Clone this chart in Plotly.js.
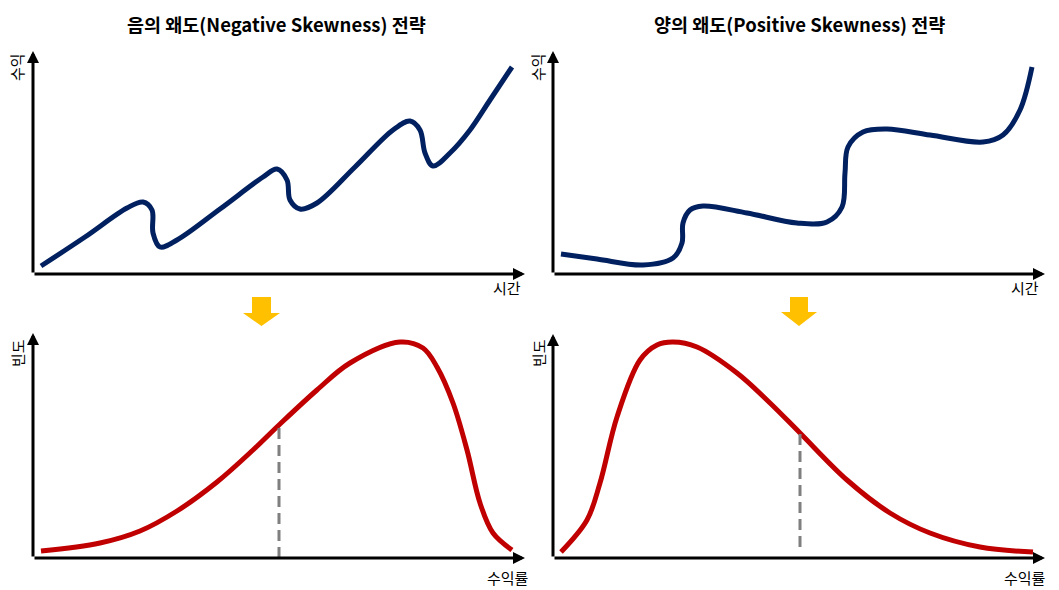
<!DOCTYPE html>
<html>
<head>
<meta charset="utf-8">
<script src="https://cdn.plot.ly/plotly-3.0.1.min.js"></script>
<style>
  html, body { margin: 0; padding: 0; background: #ffffff; }
  #chart { width: 1059px; height: 590px; }
</style>
</head>
<body>
<div id="chart"></div>
<script>
// titles and axis labels
var panelTitles = ["음의 왜도(Negative Skewness) 전략", "양의 왜도(Positive Skewness) 전략"];
var retLabel = "수익";
var timeLabel = "시간";
var freqLabel = "빈도";
var rateLabel = "수익률";

// top left: negative skew strategy, return over time
var negTime = [8, 52, 94, 110, 119, 120, 127, 144, 187, 230, 244, 254, 257, 267, 284, 322, 360, 377, 387, 392, 400, 417, 437, 457, 479];
var negRet  = [8, 37, 66, 72, 64, 41, 27, 34, 65, 97, 105, 94, 74, 65, 71, 107, 144, 153, 144, 121, 108, 121, 144, 174, 207];

// top right: positive skew strategy, return over time
var posTime = [8, 44, 90, 120, 129, 130, 137, 150, 194, 244, 274, 289, 292, 295, 310, 334, 377, 430, 450, 467, 479];
var posRet  = [20, 15, 9, 16, 31, 51, 64, 68, 61, 51, 52, 67, 101, 127, 142, 145, 139, 132, 139, 164, 207];

// bottom left: return distribution (negative skew)
var negDistX = [8, 67, 107, 144, 184, 220, 246, 284, 317, 367, 390, 404, 420, 434, 447, 460, 479];
var negDistY = [7, 15, 27, 47, 76, 108, 133, 168, 195, 216, 210, 191, 155, 108, 55, 25, 8];
var negMeanX = [246, 246];
var negMeanY = [0, 131];

// bottom right: return distribution (positive skew)
var posDistX = [8, 34, 47, 64, 87, 104, 120, 144, 184, 217, 247, 294, 337, 377, 427, 480];
var posDistY = [6, 38, 75, 141, 198, 213, 216, 211, 185, 155, 125, 78, 45, 25, 11, 6];
var posMeanX = [247, 247];
var posMeanY = [11, 125];

var W = 1059, H = 590;
function fx(p) { return p / W; }
function fy(p) { return 1 - p / H; }

var navy = "#002060";
var red = "#C00000";
var font = "'Noto Sans CJK KR', 'Noto Sans', sans-serif";

var data = [
	{ x: negTime, y: negRet, xaxis: "x", yaxis: "y", mode: "lines",
	  line: { color: navy, width: 5, shape: "spline", smoothing: 1 } },
	{ x: posTime, y: posRet, xaxis: "x2", yaxis: "y2", mode: "lines",
	  line: { color: navy, width: 5, shape: "spline", smoothing: 1 } },
	{ x: negDistX, y: negDistY, xaxis: "x3", yaxis: "y3", mode: "lines",
	  line: { color: red, width: 5, shape: "spline", smoothing: 1 } },
	{ x: negMeanX, y: negMeanY, xaxis: "x3", yaxis: "y3", mode: "lines",
	  line: { color: "#7f7f7f", width: 3, dash: "11px,6px" } },
	{ x: posDistX, y: posDistY, xaxis: "x4", yaxis: "y4", mode: "lines",
	  line: { color: red, width: 5, shape: "spline", smoothing: 1 } },
	{ x: posMeanX, y: posMeanY, xaxis: "x4", yaxis: "y4", mode: "lines",
	  line: { color: "#7f7f7f", width: 3, dash: "11px,6px" } }
];

function hidden(dom, rng) {
	return { domain: dom, range: rng, showgrid: false, zeroline: false,
		showticklabels: false, ticks: "", showline: false, fixedrange: true };
}

// axis arrows, drawn along each subplot's own axes
function axisArrows(xr, yr, xmax, ymax) {
	var base = { showarrow: true, arrowhead: 2, arrowsize: 0.8, arrowwidth: 3,
		arrowcolor: "#000000", axref: xr, ayref: yr, ax: 0, ay: 0, text: "",
		xref: xr, yref: yr, standoff: 0, startstandoff: 0 };
	return [
		Object.assign({}, base, { x: xmax, y: 0 }),
		Object.assign({}, base, { x: 0, y: ymax })
	];
}

function label(txt, x, y, angle) {
	return { text: txt, xref: "paper", yref: "paper", x: fx(x), y: fy(y),
		xanchor: "center", yanchor: "middle", showarrow: false, textangle: angle || 0,
		font: { family: font, size: 15, color: "#000000" } };
}

var annotations = []
	.concat(axisArrows("x", "y", 492, 223))
	.concat(axisArrows("x2", "y2", 492, 223))
	.concat(axisArrows("x3", "y3", 492, 225))
	.concat(axisArrows("x4", "y4", 492, 224));

annotations.push({ text: "<b>" + panelTitles[0] + "</b>", xref: "paper", yref: "paper",
	x: fx(277), y: fy(24), xanchor: "center", yanchor: "middle", showarrow: false,
	font: { family: font, size: 18.5, color: "#000000" } });
annotations.push({ text: "<b>" + panelTitles[1] + "</b>", xref: "paper", yref: "paper",
	x: fx(799), y: fy(24), xanchor: "center", yanchor: "middle", showarrow: false,
	font: { family: font, size: 18.5, color: "#000000" } });

annotations.push(label(retLabel, 17, 67, -90));
annotations.push(label(retLabel, 538, 67, -90));
annotations.push(label(timeLabel, 507, 287));
annotations.push(label(timeLabel, 1025, 287));
annotations.push(label(freqLabel, 17, 353, -90));
annotations.push(label(freqLabel, 538, 353, -90));
annotations.push(label(rateLabel, 508, 577));
annotations.push(label(rateLabel, 1025, 577));

// yellow block arrows between the rows
function blockArrow(cx, top, neck, tip, shaftHalf, headHalf) {
	var p = [[cx - shaftHalf, top], [cx + shaftHalf, top], [cx + shaftHalf, neck],
		[cx + headHalf, neck], [cx, tip], [cx - headHalf, neck], [cx - shaftHalf, neck]];
	var d = p.map(function(q, i) { return (i == 0 ? "M " : "L ") + fx(q[0]) + " " + fy(q[1]); }).join(" ") + " Z";
	return { type: "path", xref: "paper", yref: "paper", path: d,
		fillcolor: "#FFC000", line: { width: 0 }, layer: "above" };
}

var layout = {
	width: W,
	height: H,
	margin: { l: 0, r: 0, t: 0, b: 0 },
	paper_bgcolor: "#ffffff",
	plot_bgcolor: "rgba(0,0,0,0)",
	showlegend: false,
	xaxis:  hidden([fx(33), fx(525)], [0, 492]),
	yaxis:  hidden([fy(274), fy(51)], [0, 223]),
	xaxis2: hidden([fx(553), fx(1045)], [0, 492]),
	yaxis2: hidden([fy(274), fy(51)], [0, 223]),
	xaxis3: hidden([fx(33), fx(525)], [0, 492]),
	yaxis3: hidden([fy(558), fy(333)], [0, 225]),
	xaxis4: hidden([fx(553), fx(1045)], [0, 492]),
	yaxis4: hidden([fy(558), fy(334)], [0, 224]),
	annotations: annotations,
	shapes: [blockArrow(261.5, 297, 313, 326, 9.5, 18.5), blockArrow(799, 297, 312, 326, 9, 18)]
};

Plotly.newPlot("chart", data, layout, { displayModeBar: false, staticPlot: true });
</script>
</body>
</html>
